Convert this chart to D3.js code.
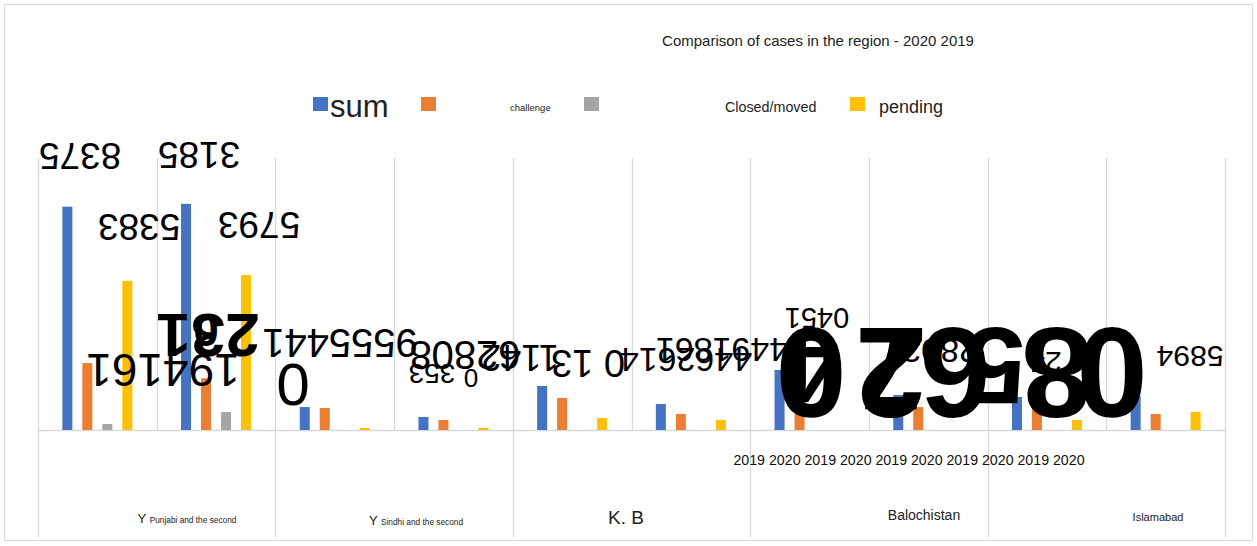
<!DOCTYPE html>
<html><head><meta charset="utf-8">
<script src="https://cdn.jsdelivr.net/npm/d3@7"></script>
<style>
html,body{margin:0;padding:0;background:#fff;}
svg{display:block;font-family:"Liberation Sans",Arial,sans-serif;}
</style></head>
<body><svg id="c" width="1257" height="546"></svg>
<script>
// ---- data ----
const title = "Comparison of cases in the region - 2020 2019";
const seriesNames = ["sum", "", "challenge", "Closed/moved", "pending"];
const series = ["sum", "challenge", "closed", "pending"];
const groups = ["P19","P20","S19","S20","K19","K20","B19","B20","I19","I20"];
const years = ["2019","2020","2019","2020","2019","2020","2019","2020","2019","2020"];
const regions = ["Punjabi and the second", "Sindhi and the second", "K. B", "Balochistan", "Islamabad"];
const sumValues     = [8375, 8480, 860, 490, 1650, 975, 2250, 1310, 1240, 1275];
const challengeVals = [2510, 1941, 825, 375, 1200, 600, 2140, 860, 940, 600];
const closedValues  = [225, 675, 0, 0, 0, 0, 0, 0, 0, 0];
const pendingValues = [5590, 5810, 75, 75, 450, 375, 0, 0, 375, 675];
// garbled, upside-down data labels as they appear in the source picture
const flippedLabels = ["8375","3185","5383","5793","194161","231","0","9555441","62808","353","0","1142","0 13","4462614","4491861","0451","0","4","7","2","6","5","8","0","2803","24","5894","0"];

// ---- layout ----
const svg = d3.select("#c");
const plotL = 38, plotR = 1225, base = 430, plotT = 158;
const colors = {sum:"#4472c4", challenge:"#ed7d31", closed:"#a5a5a5", pending:"#ffc000"};
const valuesBy = {sum:sumValues, challenge:challengeVals, closed:closedValues, pending:pendingValues};

svg.append("rect").attr("x",4.5).attr("y",4.5).attr("width",1248).attr("height",536)
  .attr("fill","none").attr("stroke","#d9d9d9");

const x0 = d3.scaleBand().domain(groups).range([plotL,plotR]).padding(0);
const x1 = d3.scaleBand().domain(series).range([0,x0.bandwidth()]).paddingInner(0.5).paddingOuter(1.2175);
const y = d3.scaleLinear().domain([0,(base-plotT)*37.5]).range([base,plotT]);

// gridlines
const grid = svg.append("g").attr("stroke","#d9d9d9").attr("stroke-width",1.3);
groups.forEach((g,i)=>{
  const gx = Math.round(x0(g))+0.5;
  grid.append("line").attr("x1",gx).attr("x2",gx).attr("y1",plotT).attr("y2",base);
});
grid.append("line").attr("x1",plotR+0.5).attr("x2",plotR+0.5).attr("y1",plotT).attr("y2",base);
for(let i=0;i<=10;i+=2){
  const gx = Math.round(i<10 ? x0(groups[i]) : plotR)+0.5;
  grid.append("line").attr("x1",gx).attr("x2",gx).attr("y1",base).attr("y2",537);
}
grid.append("line").attr("x1",plotL).attr("x2",plotR).attr("y1",base+0.5).attr("y2",base+0.5);

// bars
const barG = svg.append("g");
series.forEach(s=>{
  barG.selectAll(null).data(groups).enter().append("rect")
    .attr("x",g=>x0(g)+x1(s))
    .attr("width",x1.bandwidth())
    .attr("y",(g,i)=>y(valuesBy[s][i]))
    .attr("height",(g,i)=>base-y(valuesBy[s][i]))
    .attr("fill",colors[s]);
});

// title
svg.append("text").attr("x",818).attr("y",46).attr("text-anchor","middle")
  .attr("font-size",15).attr("fill","#222").text(title);

// legend
const leg = svg.append("g");
const legItems = [
  {c:colors.sum, sx:313, tx:330, t:seriesNames[0], fs:31, ty:117},
  {c:colors.challenge, sx:421, tx:510, t:seriesNames[2], fs:9.5, ty:111},
  {c:colors.closed, sx:584, tx:725, t:seriesNames[3], fs:14.3, ty:112},
  {c:colors.pending, sx:850, tx:879, t:seriesNames[4], fs:18, ty:113}
];
legItems.forEach(d=>{
  leg.append("rect").attr("x",d.sx).attr("y",97).attr("width",15).attr("height",14).attr("fill",d.c);
  leg.append("text").attr("x",d.tx).attr("y",d.ty).attr("font-size",d.fs).attr("fill","#222").text(d.t);
});

// year tick labels
svg.append("text").attr("x",909).attr("y",465).attr("text-anchor","middle")
  .attr("font-size",14.2).attr("fill","#111").text(years.join(" "));

// region labels
const regPos = [
  {x:187, y:523, fs:8.3, y0:true},
  {x:416, y:525, fs:8.3, y0:true},
  {x:626, y:524, fs:19},
  {x:924, y:520, fs:14},
  {x:1158, y:521, fs:11}
];
regions.forEach((r,i)=>{
  const p = regPos[i];
  const t = svg.append("text").attr("x",p.x).attr("y",p.y).attr("text-anchor","middle").attr("fill","#222").attr("font-size",p.fs);
  if(p.y0){ t.append("tspan").attr("font-size",13).text("Y "); }
  t.append("tspan").text(r);
});

// upside-down data labels
const flipPos = [
  [80,155,37,400],[199,154,37,400],[139,226,37,400],[259,224,37,400],
  [163,370,46,400],[208,335,62,700],[206,330,46,700],[340,343,40,400],
  [465,355,40,400],[432,373,28,400],[471,378,26,400],[520,357,36,400],
  [588,363,38,400],[686,360,34,400],[722,350,34,400],[817,318,29,400],
  [811,372,128,700],[811,368,100,700],[891,372,110,700],[891,372,128,700],
  [955,372,128,700],[995,366,110,700],[1057,372,128,700],[1112,372,128,700],
  [940,351,34,400],[1045,362,30,400],[1190,356,30,400],[293,384,60,400]
];
const fl = svg.append("g").attr("fill","#000");
flippedLabels.forEach((t,i)=>{
  const p = flipPos[i];
  fl.append("text").attr("transform",`translate(${p[0]},${p[1]}) rotate(180)`)
    .attr("text-anchor","middle").attr("dominant-baseline","central")
    .attr("font-size",p[2]).attr("font-weight",p[3]).text(t);
});
</script></body></html>
